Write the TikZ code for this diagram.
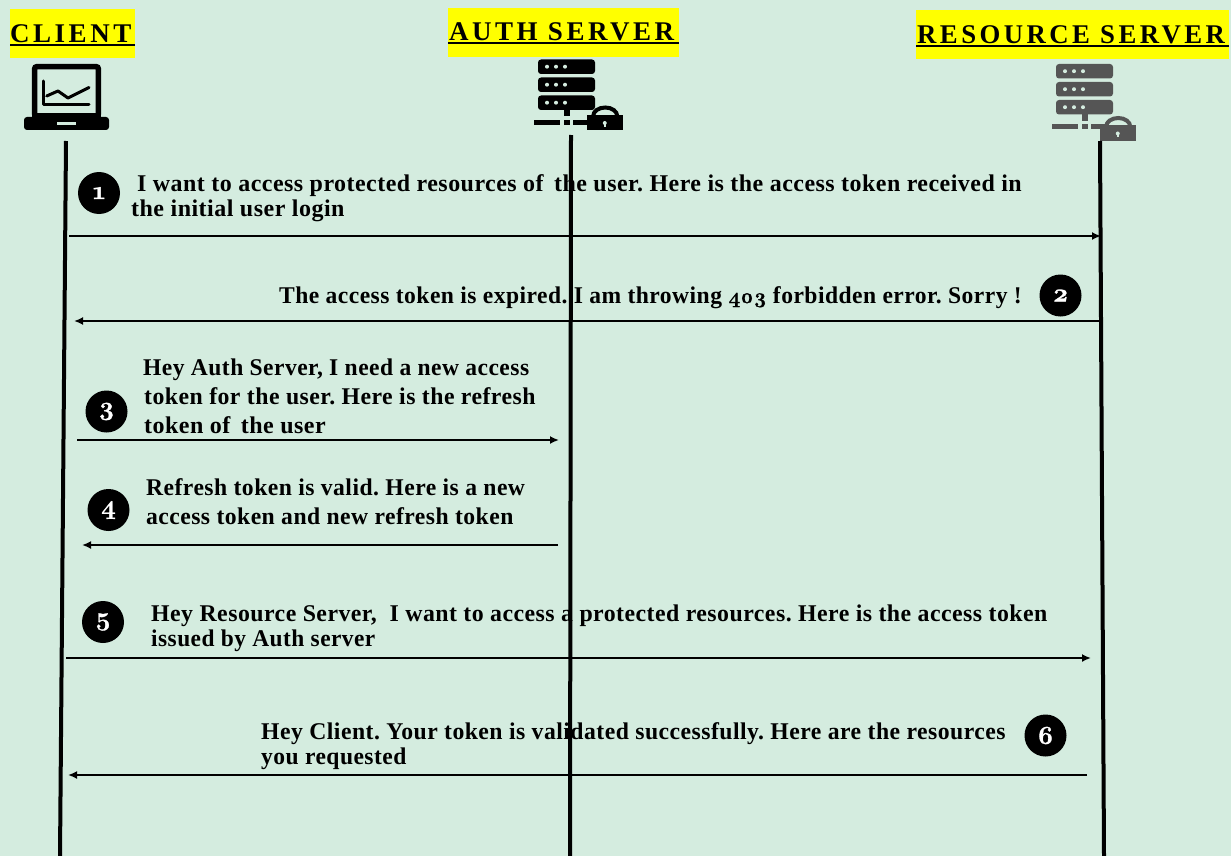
\documentclass[tikz,border=0pt]{standalone}
\usepackage{graphicx}
\usepackage{fontspec}
\setmainfont[LetterSpace=2.0]{Liberation Serif}
\newfontfamily\oldnum[Numbers=OldStyle,BoldFeatures={FakeBold=1.2}]{Latin Modern Roman}
\newfontfamily\hdrfont[LetterSpace=13]{Liberation Serif}
\definecolor{bgc}{HTML}{D4ECDF}
\definecolor{hdr}{HTML}{FFFF00}
\definecolor{srv}{HTML}{555555}
\usetikzlibrary{arrows.meta}
\tikzset{
  x=1pt,y=-1pt,
  lifeline/.style={line width=4pt,black},
  msg/.style={line width=2pt,black,-{Latex[length=9pt,width=8pt]}},
  txt/.style={anchor=base west,inner sep=0pt,font=\fontsize{24}{24}\selectfont\bfseries\frenchspacing,text=black},
  badge/.style={circle,fill=black,minimum size=42pt,inner sep=0pt,text=white,font=\fontsize{26}{26}\selectfont\bfseries\oldnum},
  hdrbox/.style={fill=hdr,inner sep=0pt,anchor=north west},
  hdrtxt/.style={anchor=base west,inner sep=0pt,font=\fontsize{27}{28}\selectfont\bfseries\hdrfont,text=black},
  pics/rackstack/.style={code={
    \foreach \yy in {0,18,36}{
      \fill[#1,rounded corners=3pt] (0,\yy) rectangle (57,14.5+\yy);
      \foreach \xx in {9,18,27} \fill[bgc] (\xx,7.2+\yy) circle (2);
    }
    \fill[#1] (26,50.5) rectangle (31.5,57);
    \fill[#1] (-4,60.5) rectangle (22,65.5);
    \fill[#1] (26,60.5) rectangle (31.5,65.5);
    \fill[#1] (35,60.5) rectangle (50,65.5);
  }},
  pics/padlock/.style={code={
    \fill[#1] (0,0) rectangle (36,15.5);
    \draw[#1,line width=4pt] (6.2,1) arc[start angle=180,end angle=360,x radius=12,y radius=8.5];
    \fill[bgc] (16.7,8) rectangle (18.8,12);
    \fill[bgc] (17.75,8) circle (2);
  }}
}
\begin{document}
\begin{tikzpicture}
\fill[bgc] (0,0) rectangle (1231,856);
\useasboundingbox (0,0) rectangle (1231,856);

% headers
\node[hdrbox,minimum width=125pt,minimum height=49pt] (hc) at (10,9) {};
\node[hdrbox,minimum width=231pt,minimum height=49pt] (ha) at (448,8) {};
\node[hdrbox,minimum width=313pt,minimum height=49pt] (hr) at (916,10) {};
\node[hdrtxt] (hct) at (10,43) {CLIENT};
\node[hdrtxt] (hat) at (449,41) {AUTH SERVER};
\node[hdrtxt] (hrt) at (917,44) {\scalebox{.99}[1]{RESOURCE SERVER}};
\draw[line width=1.5pt] (hc.west |- 0,45) -- (hc.east |- 0,45);
\draw[line width=1.5pt] (ha.west |- 0,43) -- (ha.east |- 0,43);
\draw[line width=1.5pt] (hr.west |- 0,46) -- (hr.east |- 0,46);

% laptop
\draw[line width=5.5pt,rounded corners=2pt] (34.7,66.7) rectangle (98.3,116);
\fill[rounded corners=3pt] (24,117) rectangle (109,130);
\fill (32,113) rectangle (101,118);
\fill[bgc] (57,122) rectangle (76,125);
\draw[line width=3pt,line cap=round,line join=round] (43.5,81) -- (43.5,105) -- (89,105);
\draw[line width=3pt,line cap=round,line join=round] (46.7,96) -- (58,91) -- (68,98) -- (89,87.5);

% servers
\pic at (538,59.5) {rackstack=black};
\pic at (587,115) {padlock=black};
\pic at (1056,64) {rackstack=srv};
\pic at (1100,125.5) {padlock=srv};

% lifelines
\coordinate (c0) at (66,141); \coordinate (c1) at (60,856);
\coordinate (a0) at (571,135); \coordinate (a1) at (570,856);
\coordinate (r0) at (1100,141); \coordinate (r1) at (1104,856);
\draw[lifeline] (c0) -- (c1);
\draw[lifeline] (a0) -- (a1);
\draw[lifeline] (r0) -- (r1);

% messages
\coordinate (m1a) at (69,236); \coordinate (m1b) at (1101,236);
\coordinate (m2a) at (1100,321); \coordinate (m2b) at (74,321);
\coordinate (m3a) at (77,440); \coordinate (m3b) at (559,440);
\coordinate (m4a) at (558,545); \coordinate (m4b) at (82,545);
\coordinate (m5a) at (66,658); \coordinate (m5b) at (1091,658);
\coordinate (m6a) at (1087,775); \coordinate (m6b) at (68,775);
\draw[msg] (m1a) -- (m1b);
\draw[msg] (m2a) -- (m2b);
\draw[msg] (m3a) -- (m3b);
\draw[msg] (m4a) -- (m4b);
\draw[msg] (m5a) -- (m5b);
\draw[msg] (m6a) -- (m6b);

% badges
\node[badge] (b1) at (99,193) {1};
\node[badge] (b2) at (1060.5,295.5) {2};
\node[badge] (b3) at (106.5,411.5) {3};
\node[badge] (b4) at (108.5,510) {4};
\node[badge] (b5) at (103,622) {5};
\node[badge] (b6) at (1045.5,735.5) {6};

% texts
\node[txt] (t1a) at (137,191) {\scalebox{.998}[1]{I want to access protected resources of\,\ the user. Here is the access token received in}};
\node[txt] (t1b) at (131,216) {the initial user login};
\node[txt] (t2) at (279,303) {\scalebox{.981}[1]{The access token is expired. I am throwing {\fontsize{21}{24}\selectfont\oldnum 403} forbidden error. Sorry !}};
\node[txt] (t3a) at (143,375) {\scalebox{.98}[1]{Hey Auth Server, I need a new access}};
\node[txt] (t3b) at (144,404) {\scalebox{.99}[1]{token for the user. Here is the refresh}};
\node[txt] (t3c) at (144,433) {token of\,\ the user};
\node[txt] (t4a) at (146,495) {\scalebox{.984}[1]{Refresh token is valid. Here is a new}};
\node[txt] (t4b) at (146,524) {\scalebox{.984}[1]{access token and new refresh token}};
\node[txt] (t5a) at (151,621) {\scalebox{.992}[1]{Hey Resource Server,\ \ I want to access a protected resources. Here is the access token}};
\node[txt] (t5b) at (151,646) {\scalebox{.974}[1]{issued by Auth server}};
\node[txt] (t6a) at (261,739) {\scalebox{.987}[1]{Hey Client. Your token is validated successfully. Here are the resources}};
\node[txt] (t6b) at (261,764) {\scalebox{.98}[1]{you requested}};
\end{tikzpicture}
\end{document}
